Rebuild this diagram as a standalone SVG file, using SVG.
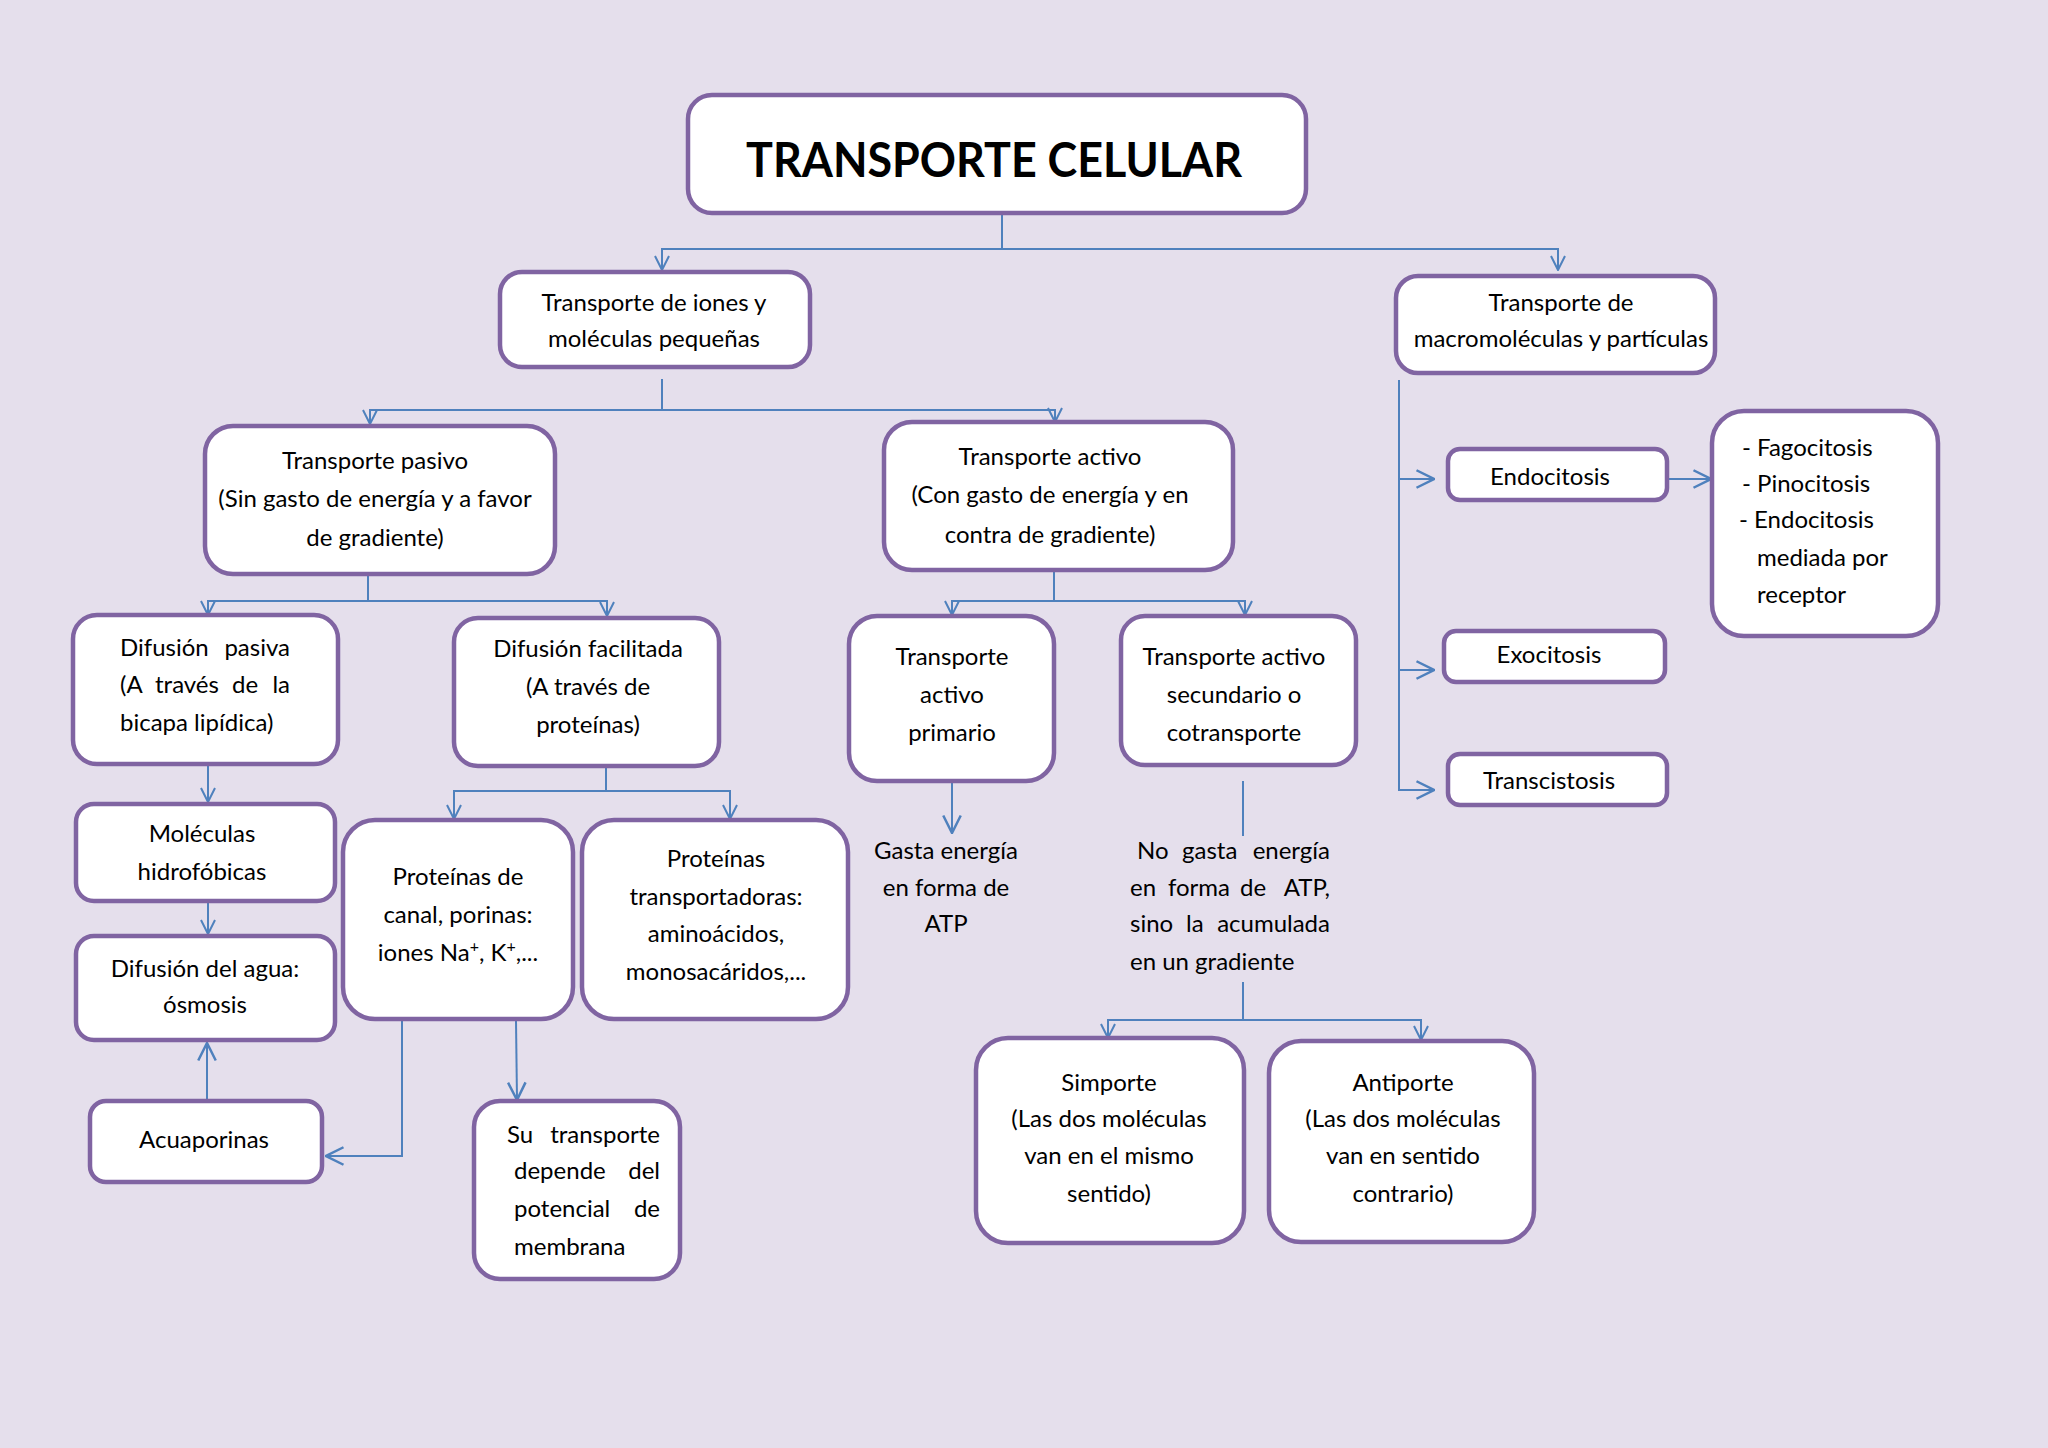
<svg xmlns="http://www.w3.org/2000/svg" width="2048" height="1448" viewBox="0 0 2048 1448">
<style>
.bg{fill:#e5dfec}
.n rect{fill:#fff;stroke:#8064a2;stroke-width:4.5}
text{font-family:Lato,"Liberation Sans",sans-serif;font-size:24px;fill:#000}
.m{text-anchor:middle}
.e{text-anchor:end}
.title{font-size:48px;font-weight:bold}
.c path{fill:none;stroke:#4f81bd;stroke-width:2}
</style>
<defs>
<marker id="a" viewBox="0 0 16 16" refX="15" refY="8" markerWidth="16" markerHeight="16" markerUnits="userSpaceOnUse" orient="auto">
<path d="M1,1 L15,8 L1,15" fill="none" stroke="#4f81bd" stroke-width="2"/>
</marker>
<marker id="b" viewBox="0 0 16 16" refX="15" refY="8" markerWidth="20" markerHeight="20" markerUnits="userSpaceOnUse" orient="auto">
<path d="M1,1 L15,8 L1,15" fill="none" stroke="#4f81bd" stroke-width="2"/>
</marker>
</defs>
<rect class="bg" x="0" y="0" width="2048" height="1448"/>

<g class="c">
<path d="M1002,213 V249"/>
<path d="M1002,249 H662 V270" marker-end="url(#a)"/>
<path d="M1002,249 H1558 V270" marker-end="url(#a)"/>
<path d="M662,379 V410"/>
<path d="M662,410 H370 V424" marker-end="url(#a)"/>
<path d="M662,410 H1055 V422" marker-end="url(#a)"/>
<path d="M368,573 V601"/>
<path d="M368,601 H208 V615" marker-end="url(#a)"/>
<path d="M368,601 H607 V616" marker-end="url(#a)"/>
<path d="M1054,569 V601"/>
<path d="M1054,601 H952 V615" marker-end="url(#a)"/>
<path d="M1054,601 H1245 V615" marker-end="url(#a)"/>
<path d="M208,764 V802" marker-end="url(#a)"/>
<path d="M208,901 V934" marker-end="url(#a)"/>
<path d="M207,1101 V1043" marker-end="url(#b)"/>
<path d="M606,765 V791"/>
<path d="M606,791 H454 V819" marker-end="url(#a)"/>
<path d="M606,791 H730 V819" marker-end="url(#a)"/>
<path d="M402,1019 V1156 H326" marker-end="url(#b)"/>
<path d="M516,1021 L517,1100" marker-end="url(#b)"/>
<path d="M952,781 V833" marker-end="url(#b)"/>
<path d="M1243,781 V836"/>
<path d="M1243,982 V1020"/>
<path d="M1243,1020 H1108 V1038" marker-end="url(#a)"/>
<path d="M1243,1020 H1421 V1040" marker-end="url(#a)"/>
<path d="M1399,380 V791"/>
<path d="M1399,479 H1434" marker-end="url(#b)"/>
<path d="M1399,670 H1434" marker-end="url(#b)"/>
<path d="M1399,790 H1434" marker-end="url(#b)"/>
<path d="M1668,479 H1711" marker-end="url(#b)"/>
</g>

<g id="n-title" class="n">
<rect x="688" y="95" width="618" height="118" rx="24"/>
<text class="m title" x="994" y="177" textLength="496" lengthAdjust="spacingAndGlyphs">TRANSPORTE CELULAR</text>
</g>
<g id="n-iones" class="n">
<rect x="500" y="272" width="310" height="95" rx="22"/>
<text class="m" x="654" y="311">Transporte de iones y</text>
<text class="m" x="654" y="347">moléculas pequeñas</text>
</g>
<g id="n-macro" class="n">
<rect x="1396" y="276" width="319" height="97" rx="22"/>
<text class="m" x="1561" y="311">Transporte de</text>
<text class="m" x="1561" y="347">macromoléculas y partículas</text>
</g>
<g id="n-pasivo" class="n">
<rect x="205" y="426" width="350" height="148" rx="28"/>
<text class="m" x="375" y="469">Transporte pasivo</text>
<text class="m" x="375" y="507">(Sin gasto de energía y a favor</text>
<text class="m" x="375" y="546">de gradiente)</text>
</g>
<g id="n-activo" class="n">
<rect x="884" y="422" width="349" height="148" rx="28"/>
<text class="m" x="1050" y="465">Transporte activo</text>
<text class="m" x="1050" y="503">(Con gasto de energía y en</text>
<text class="m" x="1050" y="543">contra de gradiente)</text>
</g>
<g id="n-difpasiva" class="n">
<rect x="73" y="615" width="265" height="149" rx="24"/>
<text x="120" y="656">Difusión<tspan class="e" x="290">pasiva</tspan></text>
<text x="120" y="693">(A<tspan x="155">través</tspan><tspan class="m" x="245">de</tspan><tspan class="e" x="290">la</tspan></text>
<text x="120" y="731">bicapa lipídica)</text>
</g>
<g id="n-diffacil" class="n">
<rect x="454" y="618" width="265" height="148" rx="24"/>
<text class="m" x="588" y="657">Difusión facilitada</text>
<text class="m" x="588" y="695">(A través de</text>
<text class="m" x="588" y="733">proteínas)</text>
</g>
<g id="n-primario" class="n">
<rect x="849" y="616" width="205" height="165" rx="28"/>
<text class="m" x="952" y="665">Transporte</text>
<text class="m" x="952" y="703">activo</text>
<text class="m" x="952" y="741">primario</text>
</g>
<g id="n-secundario" class="n">
<rect x="1121" y="616" width="235" height="149" rx="24"/>
<text class="m" x="1234" y="665">Transporte activo</text>
<text class="m" x="1234" y="703">secundario o</text>
<text class="m" x="1234" y="741">cotransporte</text>
</g>
<g id="n-hidrofobicas" class="n">
<rect x="76" y="804" width="259" height="97" rx="18"/>
<text class="m" x="202" y="842">Moléculas</text>
<text class="m" x="202" y="880">hidrofóbicas</text>
</g>
<g id="n-canal" class="n">
<rect x="343" y="820" width="230" height="199" rx="32"/>
<text class="m" x="458" y="885">Proteínas de</text>
<text class="m" x="458" y="923">canal, porinas:</text>
<text class="m" x="458" y="961">iones Na<tspan dy="-9" font-size="16">+</tspan><tspan dy="9">, K</tspan><tspan dy="-9" font-size="16">+</tspan><tspan dy="9">,...</tspan></text>
</g>
<g id="n-transportadoras" class="n">
<rect x="582" y="820" width="266" height="199" rx="32"/>
<text class="m" x="716" y="867">Proteínas</text>
<text class="m" x="716" y="905">transportadoras:</text>
<text class="m" x="716" y="942">aminoácidos,</text>
<text class="m" x="716" y="980">monosacáridos,...</text>
</g>
<g id="n-osmosis" class="n">
<rect x="76" y="936" width="259" height="104" rx="18"/>
<text class="m" x="205" y="977">Difusión del agua:</text>
<text class="m" x="205" y="1013">ósmosis</text>
</g>
<g id="n-acuaporinas" class="n">
<rect x="90" y="1101" width="232" height="81" rx="16"/>
<text class="m" x="204" y="1148">Acuaporinas</text>
</g>
<g id="n-potencial" class="n">
<rect x="474" y="1101" width="206" height="178" rx="26"/>
<text x="507" y="1143">Su<tspan class="e" x="660">transporte</tspan></text>
<text x="514" y="1179">depende<tspan class="e" x="660">del</tspan></text>
<text x="514" y="1217">potencial<tspan class="e" x="660">de</tspan></text>
<text x="514" y="1255">membrana</text>
</g>
<g id="n-gasta">
<text class="m" x="946" y="859">Gasta energía</text>
<text class="m" x="946" y="896">en forma de</text>
<text class="m" x="946" y="932">ATP</text>
</g>
<g id="n-nogasta">
<text x="1137" y="859">No<tspan x="1182">gasta</tspan><tspan class="e" x="1330">energía</tspan></text>
<text x="1130" y="896">en<tspan x="1168">forma</tspan><tspan x="1240">de</tspan><tspan class="e" x="1330">ATP,</tspan></text>
<text x="1130" y="932">sino<tspan x="1186">la</tspan><tspan class="e" x="1330">acumulada</tspan></text>
<text x="1130" y="970">en un gradiente</text>
</g>
<g id="n-simporte" class="n">
<rect x="976" y="1038" width="268" height="205" rx="32"/>
<text class="m" x="1109" y="1091">Simporte</text>
<text class="m" x="1109" y="1127">(Las dos moléculas</text>
<text class="m" x="1109" y="1164">van en el mismo</text>
<text class="m" x="1109" y="1202">sentido)</text>
</g>
<g id="n-antiporte" class="n">
<rect x="1269" y="1041" width="265" height="201" rx="32"/>
<text class="m" x="1403" y="1091">Antiporte</text>
<text class="m" x="1403" y="1127">(Las dos moléculas</text>
<text class="m" x="1403" y="1164">van en sentido</text>
<text class="m" x="1403" y="1202">contrario)</text>
</g>
<g id="n-endocitosis" class="n">
<rect x="1448" y="449" width="219" height="51" rx="12"/>
<text class="m" x="1550" y="485">Endocitosis</text>
</g>
<g id="n-tipos" class="n">
<rect x="1712" y="411" width="226" height="225" rx="32"/>
<text x="1742" y="456">- Fagocitosis</text>
<text x="1742" y="492">- Pinocitosis</text>
<text x="1739" y="528">-  Endocitosis</text>
<text x="1757" y="566">mediada por</text>
<text x="1757" y="603">receptor</text>
</g>
<g id="n-exocitosis" class="n">
<rect x="1444" y="631" width="221" height="51" rx="12"/>
<text class="m" x="1549" y="663">Exocitosis</text>
</g>
<g id="n-transcistosis" class="n">
<rect x="1448" y="754" width="219" height="51" rx="12"/>
<text class="m" x="1549" y="789">Transcistosis</text>
</g>
</svg>
